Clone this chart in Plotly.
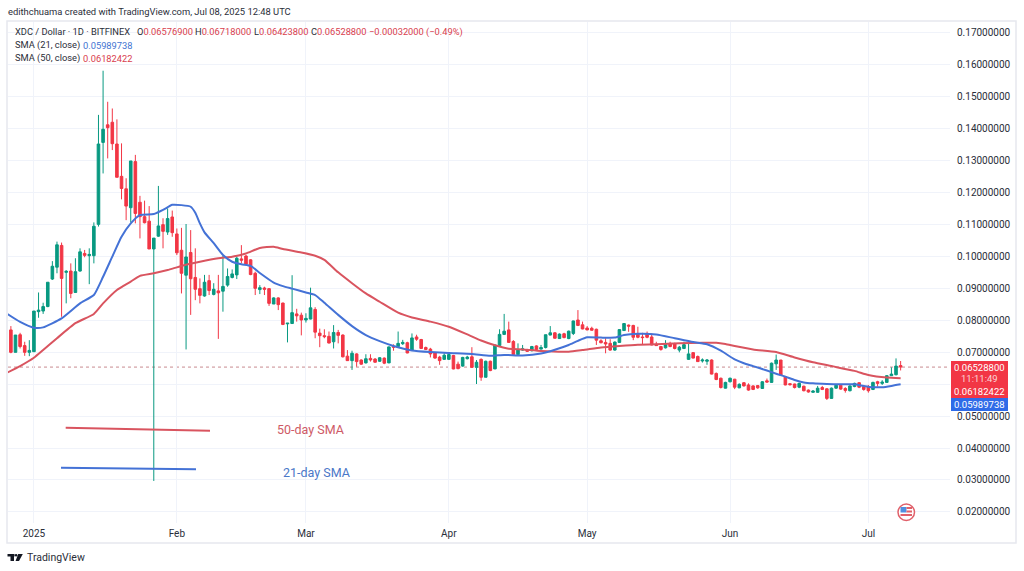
import pandas as pd
import plotly.graph_objects as go

# daily candles, Dec 27 2024 - Jul 8 2025, prices in units of 0.0001 dollar
dates = pd.date_range("2024-12-27", "2025-07-08", freq="D")

opens = [
    769, 699, 754, 720, 699,
    701, 826, 828, 842, 928, 965, 1033, 949, 953, 886, 953, 1008, 1001, 1001, 1099, 1355, 1410, 1418, 1350, 1249, 1210, 1151, 1295, 1168, 1123, 1109, 1022, 1062, 1098, 1075, 1122,
    1069, 1018, 940, 1011, 933, 898, 875, 923, 880, 891, 890, 909, 933, 941, 991, 1000, 988, 946, 895, 900, 898, 850, 869, 853, 788, 789, 819, 815,
    800, 803, 833, 759, 751, 749, 732, 761, 753, 687, 673, 694, 675, 666, 680, 678, 671, 681, 666, 718, 717, 726, 729, 705, 747, 739, 714, 709, 698, 684, 677,
    677, 689, 662, 656, 679, 685, 652, 677, 621, 671, 647, 720, 755, 769, 733, 692, 706, 708, 704, 719, 709, 714, 753, 760, 742, 757, 742, 758, 800, 785,
    775, 774, 771, 735, 730, 727, 706, 730, 767, 784, 783, 756, 747, 758, 747, 724, 717, 713, 727, 725, 706, 711, 677, 698, 686, 672, 671, 675, 633, 618, 587,
    607, 615, 588, 604, 597, 594, 595, 586, 610, 605, 663, 675, 623, 601, 600, 590, 593, 581, 574, 574, 589, 585, 555, 587, 596, 586, 579, 592, 604, 592,
    591, 583, 607, 602, 605, 626, 629, 657.69,
]
highs = [
    781, 753, 760, 732, 737,
    828, 886, 854, 918, 984, 1045, 1042, 956, 977, 993, 1024, 1019, 1024, 1105, 1441, 1579, 1482, 1461, 1427, 1352, 1243, 1297, 1316, 1188, 1173, 1156, 1056, 1219, 1118, 1149, 1142,
    1086, 1088, 1100, 1081, 1024, 930, 941, 941, 915, 941, 1000, 961, 958, 998, 1034, 1003, 990, 951, 909, 904, 899, 871, 871, 854, 790, 940, 835, 823,
    821, 901, 840, 773, 771, 764, 784, 769, 755, 706, 704, 696, 677, 693, 693, 681, 684, 683, 717, 724, 764, 738, 732, 758, 754, 741, 717, 713, 700, 688, 696,
    696, 691, 670, 685, 688, 715, 675, 680, 673, 673, 722, 771, 819, 795, 737, 727, 722, 710, 719, 721, 722, 754, 781, 762, 758, 760, 767, 798, 831, 795,
    781, 779, 773, 740, 743, 740, 733, 771, 790, 786, 785, 779, 760, 764, 758, 732, 719, 737, 732, 729, 719, 732, 729, 700, 689, 680, 678, 677, 636, 620, 607,
    620, 616, 602, 606, 602, 596, 597, 609, 617, 667, 692, 675, 625, 602, 601, 604, 595, 583, 581, 594, 594, 587, 589, 598, 598, 590, 596, 604, 606, 597,
    597, 607, 610, 612, 628, 652, 680, 671.8,
]
lows = [
    696, 699, 711, 688, 687,
    701, 807, 819, 840, 925, 946, 810, 852, 868, 886, 951, 996, 912, 977, 1092, 1258, 1305, 1331, 1246, 1177, 1112, 1105, 1102, 1055, 1102, 1022, 297, 1060, 1024, 1066, 1060,
    1003, 883, 708, 816, 862, 852, 873, 878, 877, 741, 826, 904, 930, 928, 977, 972, 940, 878, 881, 878, 844, 850, 831, 784, 730, 788, 795, 752,
    792, 802, 743, 715, 743, 727, 711, 727, 683, 672, 644, 654, 660, 664, 670, 667, 669, 662, 665, 704, 715, 722, 696, 703, 735, 710, 706, 683, 679, 660, 675,
    675, 646, 646, 654, 677, 650, 600, 610, 621, 640, 647, 719, 753, 729, 690, 690, 704, 700, 702, 706, 708, 711, 752, 742, 741, 743, 740, 753, 781, 771,
    768, 767, 722, 727, 696, 704, 704, 729, 766, 763, 737, 743, 725, 743, 721, 719, 704, 711, 715, 708, 699, 709, 675, 680, 669, 667, 660, 630, 612, 586, 586,
    605, 584, 587, 592, 579, 581, 585, 585, 604, 604, 644, 627, 596, 595, 586, 587, 577, 573, 573, 573, 581, 550, 554, 585, 582, 573, 577, 590, 587, 579,
    573, 581, 592, 597, 604, 625, 627, 642.38,
]
closes = [
    699, 753, 717, 699, 705,
    828, 831, 842, 918, 968, 1035, 930, 952, 883, 951, 1013, 1002, 1005, 1093, 1350, 1396, 1401, 1351, 1246, 1211, 1156, 1297, 1133, 1123, 1104, 1022, 1056, 1094, 1077, 1117, 1073,
    1010, 946, 997, 929, 896, 877, 918, 892, 896, 885, 905, 936, 944, 993, 987, 975, 942, 899, 901, 896, 852, 869, 848, 786, 790, 823, 813, 800,
    805, 838, 762, 751, 748, 728, 761, 752, 685, 673, 696, 670, 662, 679, 675, 668, 682, 665, 716, 715, 727, 730, 697, 744, 740, 711, 708, 694, 681, 673, 690,
    692, 647, 648, 683, 684, 652, 668, 621, 671, 642, 722, 755, 765, 730, 692, 706, 710, 702, 717, 708, 714, 754, 760, 743, 756, 745, 765, 797, 783, 772,
    769, 768, 737, 729, 725, 706, 731, 770, 789, 781, 746, 746, 745, 746, 722, 720, 708, 724, 717, 711, 715, 723, 694, 681, 670, 675, 675, 631, 614, 589, 605,
    618, 590, 599, 594, 581, 583, 588, 607, 606, 665, 675, 628, 597, 598, 589, 602, 579, 575, 578, 587, 583, 555, 587, 596, 584, 580, 594, 602, 590, 583,
    579, 605, 602, 606, 626, 631, 656, 652.88,
]

# moving averages at irregular dates
sma21_dates = [
    "2024-12-26", "2024-12-29", "2025-01-01", "2025-01-03", "2025-01-07", "2025-01-11", "2025-01-14", "2025-01-16",
    "2025-01-18", "2025-01-20", "2025-01-22", "2025-01-24", "2025-01-27", "2025-01-29", "2025-01-31", "2025-02-02",
    "2025-02-04", "2025-02-05", "2025-02-06", "2025-02-07", "2025-02-09", "2025-02-11", "2025-02-13", "2025-02-15", "2025-02-17",
    "2025-02-19", "2025-02-22", "2025-02-24", "2025-02-26", "2025-03-01", "2025-03-03", "2025-03-05", "2025-03-08",
    "2025-03-11", "2025-03-14", "2025-03-17", "2025-03-20", "2025-03-24", "2025-03-28", "2025-04-01", "2025-04-06",
    "2025-04-10", "2025-04-13", "2025-04-17", "2025-04-21", "2025-04-24", "2025-04-27", "2025-04-29", "2025-05-01",
    "2025-05-04", "2025-05-07", "2025-05-09", "2025-05-12", "2025-05-16", "2025-05-20", "2025-05-24", "2025-05-27",
    "2025-05-30", "2025-06-02", "2025-06-04", "2025-06-06", "2025-06-09", "2025-06-11", "2025-06-13", "2025-06-15",
    "2025-06-17", "2025-06-19", "2025-06-22", "2025-06-25", "2025-06-28", "2025-06-30", "2025-07-02", "2025-07-04",
    "2025-07-06", "2025-07-08",
]
sma21_values = [
    821, 794, 776, 777, 805, 852, 878, 935,
    998, 1060, 1102, 1128, 1131, 1144, 1160, 1159,
    1154, 1135, 1102, 1074, 1040, 1003, 982, 974, 969,
    947, 917, 906, 898, 886, 878, 854, 816,
    781, 753, 734, 719, 705, 700, 697, 694,
    688, 691, 689, 695, 707, 722, 735, 746,
    745, 745, 753, 757, 755, 743, 731, 724,
    704, 677, 665, 656, 642, 632, 623, 612.5,
    605, 602, 600, 599, 599, 594, 590, 590,
    594, 598.97,
]
sma50_dates = [
    "2024-12-26", "2024-12-29", "2025-01-01", "2025-01-03", "2025-01-06", "2025-01-10", "2025-01-14", "2025-01-16",
    "2025-01-19", "2025-01-22", "2025-01-24", "2025-01-27", "2025-01-30", "2025-02-02", "2025-02-06", "2025-02-10",
    "2025-02-13", "2025-02-16", "2025-02-19", "2025-02-22", "2025-02-24", "2025-02-28", "2025-03-03", "2025-03-05",
    "2025-03-08", "2025-03-11", "2025-03-14", "2025-03-17", "2025-03-21", "2025-03-24", "2025-03-28", "2025-04-01",
    "2025-04-05", "2025-04-08", "2025-04-11", "2025-04-14", "2025-04-17", "2025-04-21", "2025-04-27", "2025-04-30",
    "2025-05-04", "2025-05-08", "2025-05-12", "2025-05-16", "2025-05-21", "2025-05-26", "2025-05-29", "2025-05-31",
    "2025-06-02", "2025-06-06", "2025-06-11", "2025-06-15", "2025-06-19", "2025-06-23", "2025-06-28", "2025-07-01",
    "2025-07-05", "2025-07-08",
]
sma50_values = [
    634, 656, 682, 706, 743, 790, 819, 852,
    894, 920, 938, 946, 956, 969, 982, 993,
    998, 1008, 1025, 1029, 1022, 1011, 1001, 988,
    949, 915, 883, 857, 823, 808, 795, 779,
    755, 736, 721, 710, 708, 703, 701, 706,
    714, 719, 723, 724, 727, 729, 729, 725,
    719, 708, 700, 683, 668, 656, 641, 628,
    620, 618.2,
]

price_ticks = [0.02, 0.03, 0.04, 0.05, 0.06, 0.07, 0.08, 0.09, 0.10, 0.11, 0.12, 0.13, 0.14, 0.15, 0.16, 0.17]
# the 0.06 label is covered by the price tags in the original
price_labels = [
    "0.02000000", "0.03000000", "0.04000000", "0.05000000", "", "0.07000000", "0.08000000", "0.09000000",
    "0.10000000", "0.11000000", "0.12000000", "0.13000000", "0.14000000", "0.15000000", "0.16000000", "0.17000000",
]
month_ticks = ["2025-01-01", "2025-02-01", "2025-03-01", "2025-04-01", "2025-05-01", "2025-06-01", "2025-07-01"]
month_labels = ["2025", "Feb", "Mar", "Apr", "May", "Jun", "Jul"]

UNIT = 0.0001
GREEN = "#089981"
RED = "#F23645"
BLUE = "#2F6BE8"
SMA_BLUE = "#4472D6"
SMA_RED = "#D9545F"
TEXT = "#2A2E39"
FONT = "Roboto"

W, H = 1024, 571
LEFT, RIGHT, TOP, BOTTOM = 8, 950, 22, 523


def px(x):
    return (x - LEFT) / (RIGHT - LEFT)


def py(y):
    return (BOTTOM - y) / (BOTTOM - TOP)


def scaled(values):
    return [v * UNIT for v in values]


fig = go.Figure()

fig.add_trace(
    go.Candlestick(
        x=dates,
        open=scaled(opens),
        high=scaled(highs),
        low=scaled(lows),
        close=scaled(closes),
        increasing=dict(line=dict(color=GREEN, width=1), fillcolor=GREEN),
        decreasing=dict(line=dict(color=RED, width=1), fillcolor=RED),
        whiskerwidth=0,
        showlegend=False,
    )
)
fig.add_trace(
    go.Scatter(
        x=sma50_dates,
        y=scaled(sma50_values),
        mode="lines",
        line=dict(color=SMA_RED, width=2, shape="spline", smoothing=0.5),
        showlegend=False,
    )
)
fig.add_trace(
    go.Scatter(
        x=sma21_dates,
        y=scaled(sma21_values),
        mode="lines",
        line=dict(color=SMA_BLUE, width=2, shape="spline", smoothing=0.5),
        showlegend=False,
    )
)

fig.update_layout(
    width=W,
    height=H,
    autosize=False,
    boxgap=0.2,
    margin=dict(l=LEFT, r=W - RIGHT, t=TOP, b=H - BOTTOM),
    paper_bgcolor="white",
    plot_bgcolor="white",
    font=dict(family=FONT, color=TEXT),
)
fig.update_xaxes(
    range=["2024-12-26 09:00", "2025-07-18 17:00"],
    rangeslider_visible=False,
    tickmode="array",
    tickvals=month_ticks,
    ticktext=month_labels,
    tickfont=dict(size=10, color=TEXT),
    ticks="",
    ticklabelstandoff=3,
    showgrid=True,
    gridcolor="#F0F3FA",
    gridwidth=1,
    zeroline=False,
    showline=False,
)
fig.update_yaxes(
    range=[0.01656, 0.17313],
    side="right",
    tickmode="array",
    tickvals=price_ticks,
    ticktext=price_labels,
    tickfont=dict(size=10, color=TEXT),
    ticks="",
    ticklabelstandoff=6,
    showgrid=True,
    gridcolor="#F0F3FA",
    gridwidth=1,
    zeroline=False,
    showline=False,
)


def add_text(x, y, text, color=TEXT, size=9.3, anchor="left"):
    fig.add_annotation(
        xref="paper",
        yref="paper",
        x=px(x),
        y=py(y),
        text=text,
        showarrow=False,
        xanchor=anchor,
        yanchor="middle",
        align=anchor,
        borderpad=0,
        font=dict(family=FONT, size=size, color=color),
    )


def add_box(x0, y0, x1, y1, fill=None, line=None, width=1, kind="rect", layer="above"):
    fig.add_shape(
        type=kind,
        xref="paper",
        yref="paper",
        x0=px(x0),
        y0=py(y0),
        x1=px(x1),
        y1=py(y1),
        fillcolor=fill,
        line=dict(color=line, width=width) if line else dict(width=0),
        layer=layer,
    )


# outer frame of the chart
add_box(7, 21, 1016, 543, line="#E6E8EE", width=1.5, layer="below")

# dotted line at the last close
fig.add_shape(
    type="line",
    xref="paper",
    yref="y",
    x0=0,
    x1=1,
    y0=closes[-1] * UNIT,
    y1=closes[-1] * UNIT,
    line=dict(color="#C98A90", width=1, dash="dot"),
    layer="below",
)

# hand drawn callout lines
add_box(65.7, 427.7, 210, 430.7, line=SMA_RED, width=2, kind="line")
add_box(61, 467.7, 196, 469.3, line=SMA_BLUE, width=2, kind="line")
add_text(310.5, 429, "50-day SMA", color="#CE5A66", size=12.5, anchor="center")
add_text(316.5, 472, "21-day SMA", color="#4A78C8", size=12.5, anchor="center")

# header
add_text(7, 11, "edithchuama created with TradingView.com, Jul 08, 2025 12:48 UTC", size=9.4)
add_text(14, 32, "XDC / Dollar · 1D · BITFINEX")
for x, letter, value in [
    (136, "O", "0.06576900"),
    (194, "H", "0.06718000"),
    (253, "L", "0.06423800"),
    (310, "C", "0.06528800"),
]:
    add_text(x, 32, f'{letter}<span style="color:#D9404E">{value}</span>')
add_text(368, 32, "−0.00032000 (−0.49%)", color="#D9404E")
add_text(14, 45, "SMA (21, close)")
add_text(82, 45, "0.05989738", color="#3F74D2")
add_text(14, 58, "SMA (50, close)")
add_text(82, 58, "0.06182422", color="#D9404E")

# price tags on the right scale
add_box(951, 361, 1008, 398, fill=RED)
add_box(951, 398, 1008, 411, fill=BLUE)
add_text(979.5, 367, "0.06528800", color="white", size=9.5, anchor="center")
add_text(979.5, 378.5, "11:11:49", color="#FBD5D8", size=9.5, anchor="center")
add_text(979.5, 391.5, "0.06182422", color="white", size=9.5, anchor="center")
add_text(979.5, 404.5, "0.05989738", color="white", size=9.5, anchor="center")

# flag badge near the bottom of the chart
add_box(898, 504, 914.5, 520.5, fill="white", line="#E0606A", width=1.5, kind="circle")
add_box(900.5, 507, 906.5, 512.5, fill="#4F8FE0")
add_box(906.5, 507, 912, 509, fill="#E0606A")
add_box(906.5, 510.5, 912, 512.5, fill="#E0606A")
add_box(900.5, 514, 912, 516, fill="#E0606A")

# TradingView mark and wordmark
add_box(7.5, 554, 14.5, 556.5, fill="#131722")
add_box(10.5, 554, 14, 561, fill="#131722")
add_box(14.8, 554, 17.4, 556.6, fill="#131722", kind="circle")
fig.add_shape(
    type="path",
    xref="paper",
    yref="paper",
    path=(
        f"M {px(18.2)} {py(554)} L {px(22.8)} {py(554)} "
        f"L {px(19)} {py(561)} L {px(15.6)} {py(561)} Z"
    ),
    fillcolor="#131722",
    line=dict(width=0),
)
add_text(26, 557.5, "TradingView", color="#2A2E39", size=10.5)

fig.write_html(
    "out.html",
    config={"displayModeBar": False},
    post_script="document.body.style.margin='0';document.body.style.overflow='hidden';",
)
